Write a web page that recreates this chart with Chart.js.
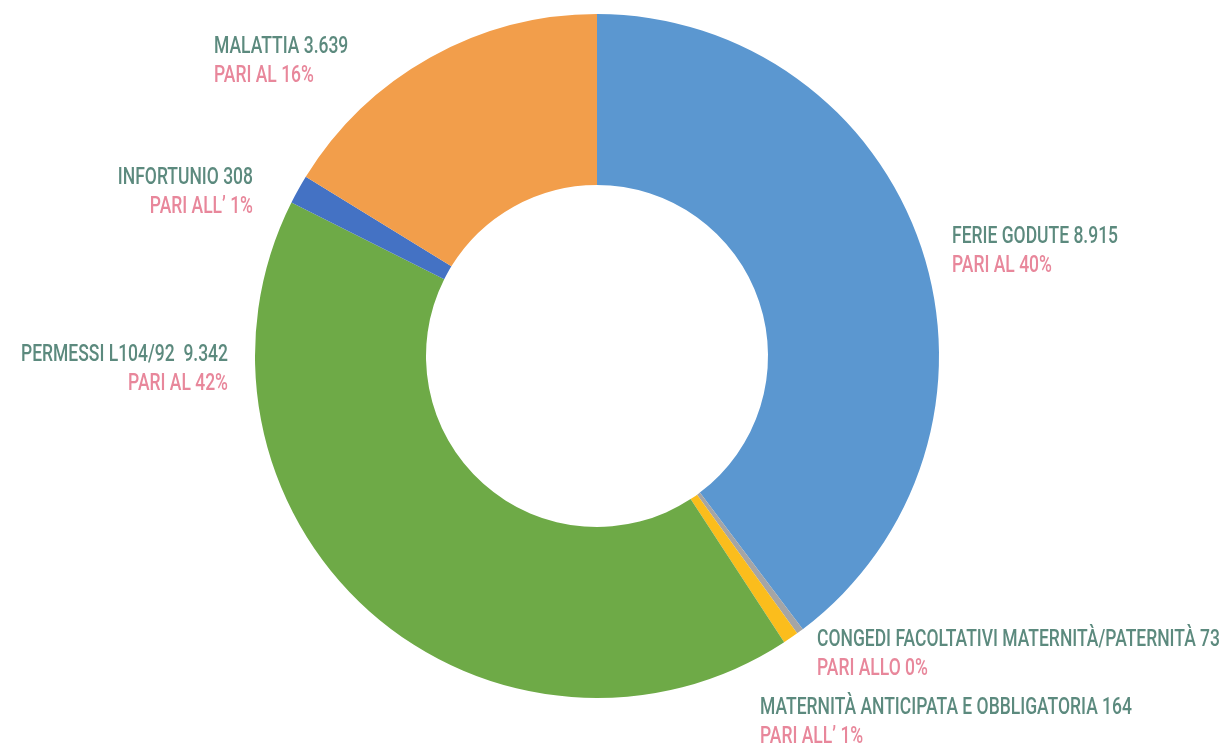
<!DOCTYPE html>
<html><head><meta charset="utf-8">
<script src="https://cdn.jsdelivr.net/npm/chart.js@4"></script>
<style>html,body{margin:0;padding:0;background:#fff}#wrap{width:1223px;height:744px;position:relative}</style>
</head><body><div id="wrap"><canvas id="c" width="1223" height="744"></canvas></div>
<script>
const categories = ["FERIE GODUTE", "CONGEDI FACOLTATIVI MATERNITÀ/PATERNITÀ", "MATERNITÀ ANTICIPATA E OBBLIGATORIA", "PERMESSI L104/92 ", "INFORTUNIO", "MALATTIA"];
const values = [8915, 73, 164, 9342, 308, 3639];
const valueLabels = ["8.915", "73", "164", "9.342", "308", "3.639"];
const percentLabels = ["PARI AL 40%", "PARI ALLO 0%", "PARI ALL’ 1%", "PARI AL 42%", "PARI ALL’ 1%", "PARI AL 16%"];
const colors = ["#5b97d0", "#a5a5a5", "#fbbd1c", "#6eaa47", "#4472c4", "#f29e4b"];

// label layout: [x, y of first line, align]
const labelPos = [
  [952, 237, "left"],
  [817, 640, "left"],
  [760, 708, "left"],
  [228, 355, "right"],
  [253, 178, "right"],
  [214, 47, "left"]
];
const FONT = '500 23px Roboto, "Noto Sans", sans-serif';
const REF_TEXT_WIDTH = 403; // width of the longest label in the reference

const labelPlugin = {
  id: 'labels',
  afterDraw(chart) {
    const ctx = chart.ctx;
    ctx.save();
    ctx.font = FONT;
    ctx.textBaseline = 'middle';
    const longest = categories[1] + ' ' + valueLabels[1];
    const sx = REF_TEXT_WIDTH / ctx.measureText(longest).width;
    categories.forEach((c, i) => {
      const [x, y, al] = labelPos[i];
      ctx.save();
      ctx.translate(x, 0);
      ctx.scale(sx, 1);
      ctx.textAlign = al;
      ctx.fillStyle = '#5c8a7e';
      ctx.fillText(c + ' ' + valueLabels[i], 0, y);
      ctx.fillStyle = '#e8879b';
      ctx.fillText(percentLabels[i], 0, y + 29);
      ctx.restore();
    });
    ctx.restore();
  }
};

new Chart(document.getElementById('c'), {
  type: 'doughnut',
  data: { labels: categories, datasets: [{ data: values, backgroundColor: colors, borderWidth: 0, hoverOffset: 0 }] },
  options: {
    responsive: false, animation: false, cutout: '50%',
    layout: { padding: { top: 14, bottom: 46, left: 0, right: 29 } },
    plugins: { legend: { display: false }, tooltip: { enabled: false } }
  },
  plugins: [labelPlugin]
});
</script></body></html>
